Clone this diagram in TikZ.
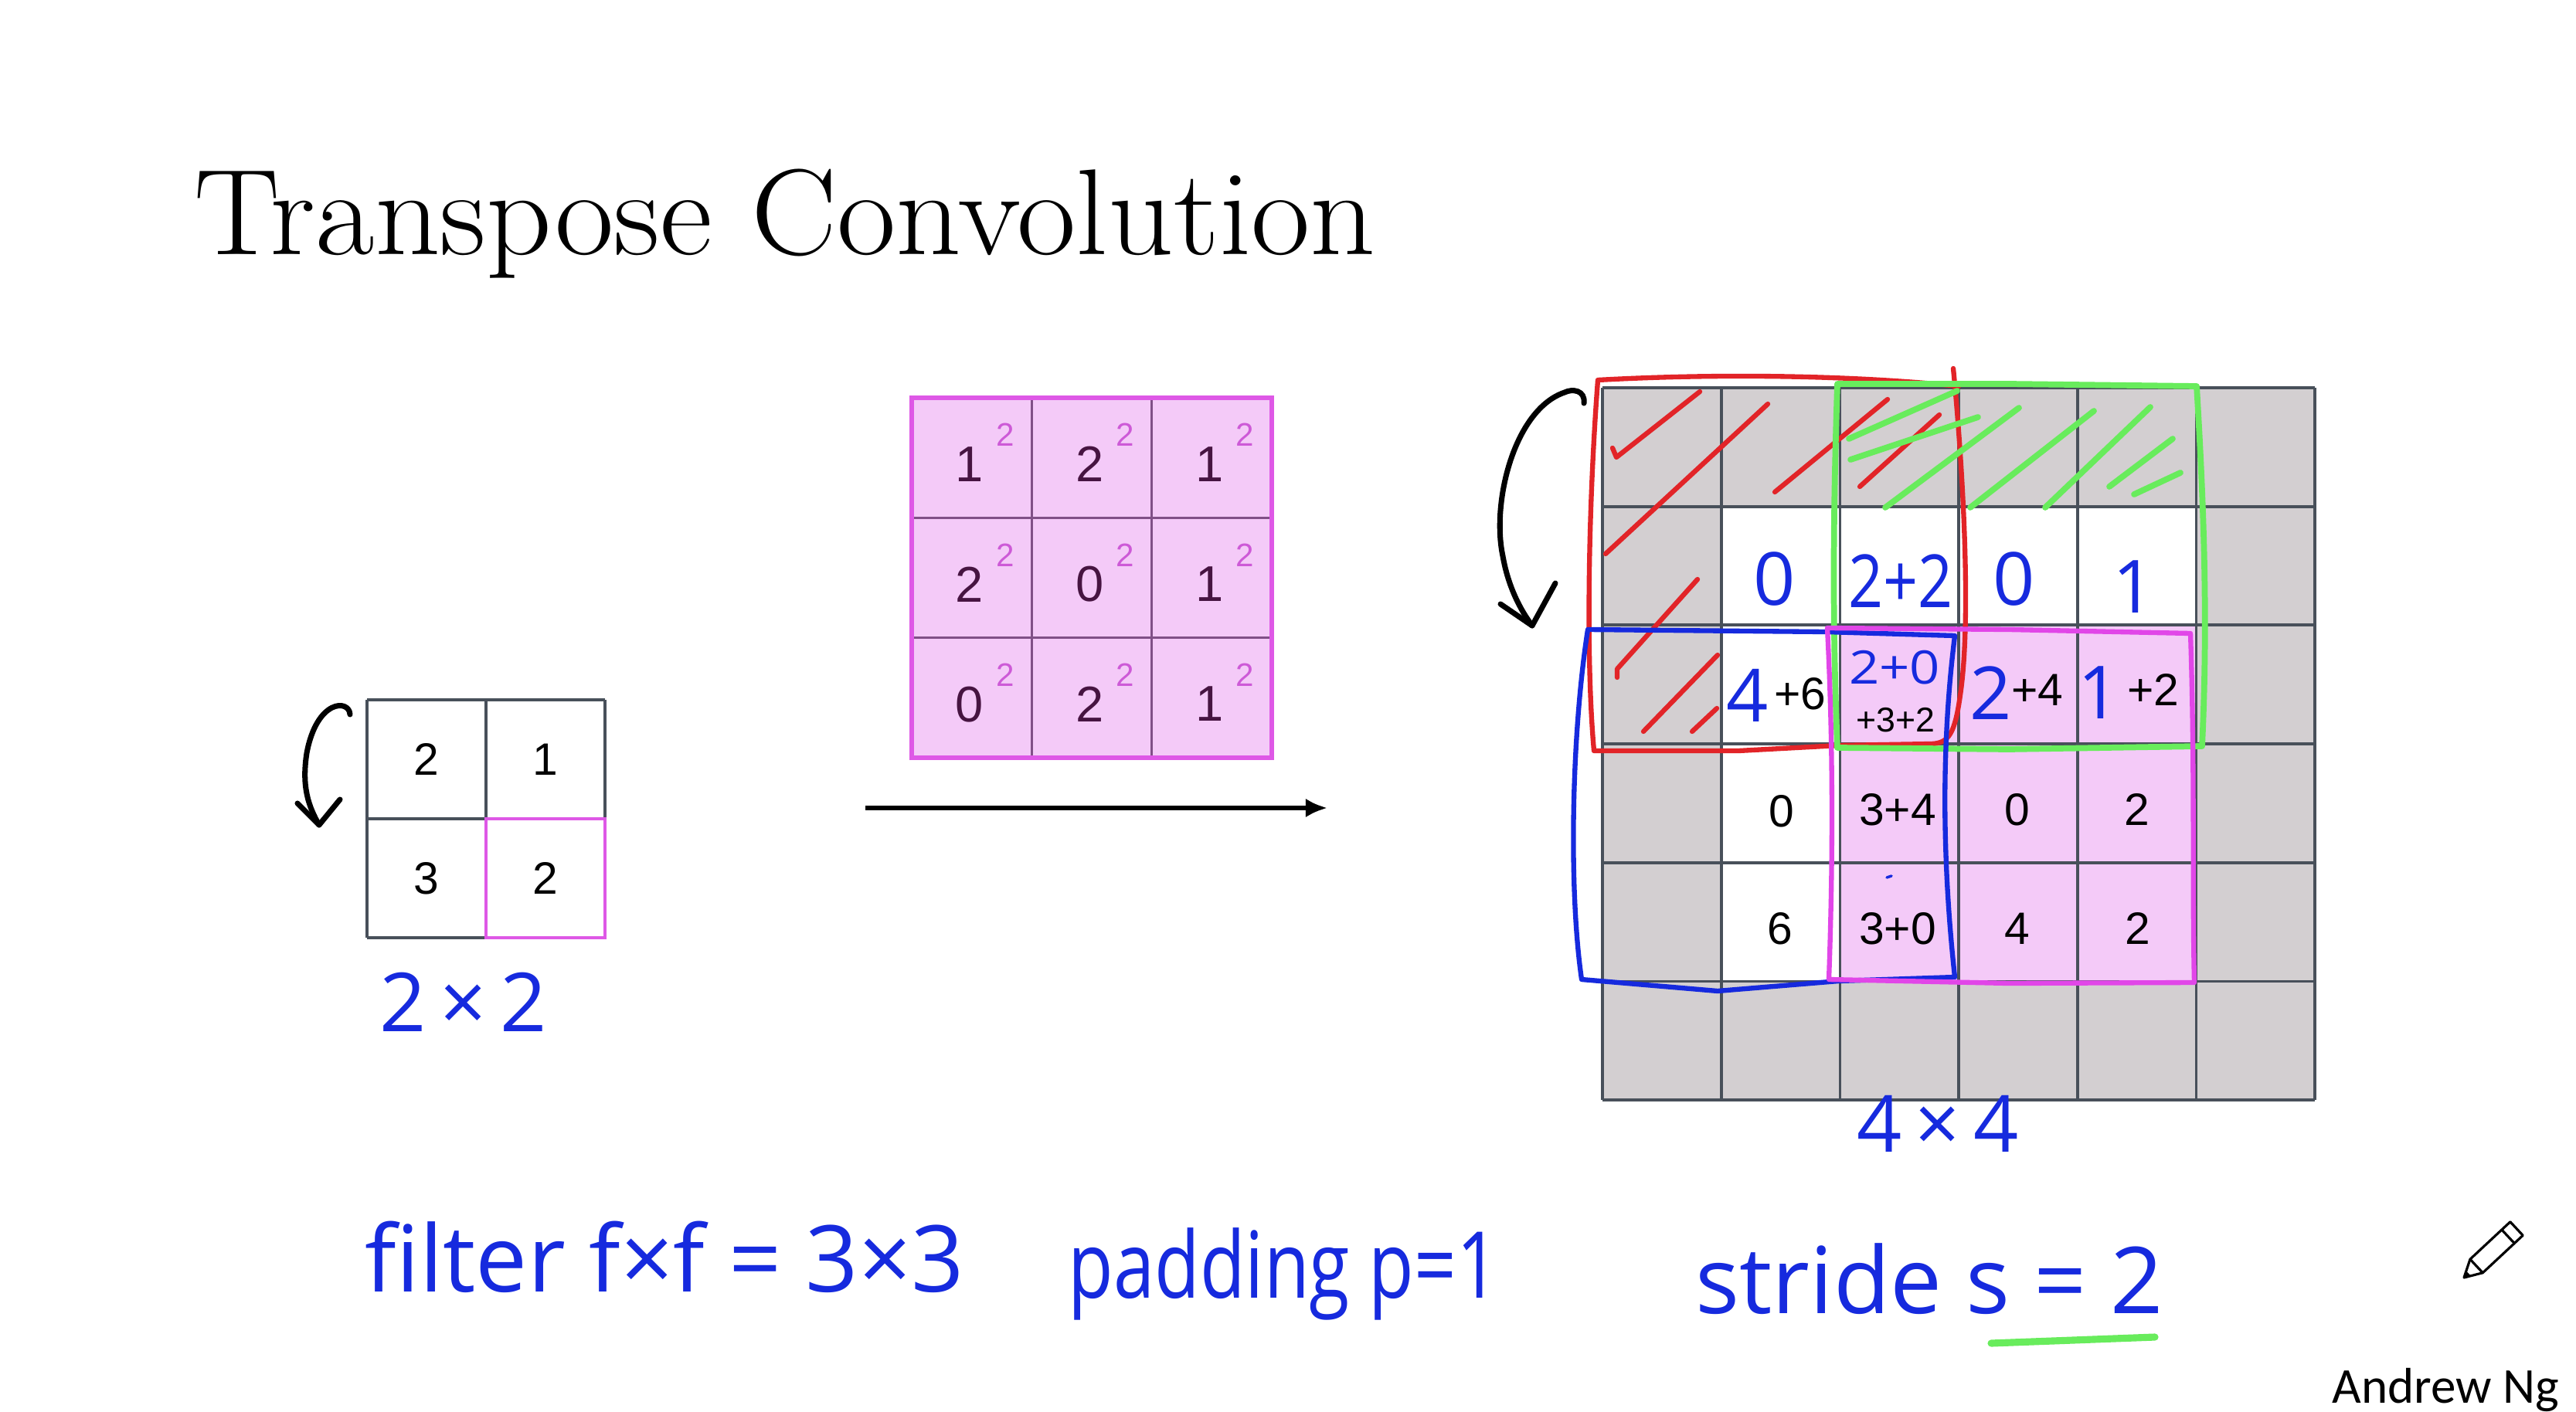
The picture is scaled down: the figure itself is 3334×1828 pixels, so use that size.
\documentclass[tikz,border=0pt]{standalone}
\usepackage{fontspec}
\setsansfont{Liberation Sans}
\newfontfamily\handfont{Open Sans}
\newfontfamily\ngfont{Carlito}
\usetikzlibrary{arrows.meta,positioning}

\definecolor{padgray}{RGB}{211,207,209}
\definecolor{gridline}{RGB}{72,80,90}
\definecolor{filterpink}{RGB}{244,202,248}
\definecolor{filterrim}{RGB}{222,88,230}
\definecolor{filterline}{RGB}{128,80,135}
\definecolor{filterdigit}{RGB}{70,20,65}
\definecolor{filtersup}{RGB}{205,90,215}
\definecolor{penblue}{RGB}{22,42,222}
\definecolor{penred}{RGB}{226,36,40}
\definecolor{pengreen}{RGB}{104,236,92}
\definecolor{penpink}{RGB}{225,70,232}

\begin{document}
\begin{tikzpicture}
[x=0.01cm,y=-0.01cm,
%
gridl/.style={draw=gridline,line width=1.1pt},
rim/.style={draw=filterrim,line width=1.4pt},
digit/.style={font=\sffamily\fontsize{16.7}{19}\selectfont,inner sep=0pt},
smalldigit/.style={font=\sffamily\fontsize{12.7}{14}\selectfont,inner sep=0pt},
fdigit/.style={font=\sffamily\fontsize{18.5}{21}\selectfont,text=filterdigit,inner sep=0pt},
fsup/.style={font=\sffamily\fontsize{12}{14}\selectfont,text=filtersup,inner sep=0pt},
hand/.style={font=\handfont\fontsize{34}{40}\selectfont,text=penblue,inner sep=0pt},
hdigit/.style={font=\handfont\fontsize{27}{30}\selectfont,text=penblue,inner sep=0pt},
%
inkline/.style={line width=1.8pt,line cap=round,line join=round},
inkblack/.style={inkline,draw=black,line width=2pt},
inkred/.style={inkline,draw=penred},
inkgreen/.style={inkline,draw=pengreen,line width=2.2pt},
inkblue/.style={inkline,draw=penblue},
inkpink/.style={inkline,draw=penpink}]
%
\useasboundingbox (0,0) rectangle (3334,1828);
\fill[white] (0,0) rectangle (3334,1828);
%
%% title
\node (title) [anchor=base west,inner sep=0pt,font=\fontsize{45}{50}\selectfont] at (251,330) {\scalebox{1.05}[1]{Transpose Convolution}};
%
%% input 2x2
\def\cin{154}
\begin{scope}[shift={(475,906)}]
\foreach \k in {0,1,2} {
  \draw[gridl] (\k*\cin,0) -- (\k*\cin,2*\cin);
  \draw[gridl] (0,\k*\cin) -- (2*\cin,\k*\cin);
}
\draw[rim] (\cin,\cin) rectangle (2*\cin,2*\cin);
\foreach \r/\c/\v in {0/0/2,0/1/1,1/0/3,1/1/2}
  \node (in\r\c) [digit] at ({\cin*(\c+.5)},{\cin*(\r+.5)}) {\v};
\end{scope}
\node (insize) [hand,font=\handfont\fontsize{30}{34}\selectfont] at (600,1297) {2\,×\,2};
%% rotation arrow of the input
\coordinate (inA) at (453,925);
\coordinate (inB) at (413,1068);
\draw[inkblack] (inA) .. controls (452,905) and (410,905) .. (397,975)
                      .. controls (390,1020) and (400,1045) .. (inB);
\draw[inkblack] (385,1040) -- (inB) -- (440,1035);
%
%% filter 3x3
\def\cf{155.3}
\begin{scope}[shift={(1180,515)}]
\fill[filterpink] (0,0) rectangle (3*\cf,3*\cf);
\foreach \k in {1,2} {
  \draw[filterline,line width=0.85pt] (\k*\cf,0) -- (\k*\cf,3*\cf);
  \draw[filterline,line width=0.85pt] (0,\k*\cf) -- (3*\cf,\k*\cf);
}
\draw[draw=filterrim,line width=1.7pt] (0,0) rectangle (3*\cf,3*\cf);
\foreach \r/\c/\v in {0/0/1,0/1/2,0/2/1,1/0/2,1/1/0,1/2/1,2/0/0,2/1/2,2/2/1} {
  \node (f\r\c) [fdigit] at ({\cf*\c+75},{\cf*\r+86}) {\v};
  \node (w\r\c) [fsup] at ({\cf*\c+121},{\cf*\r+48}) {2};
}
\end{scope}
%
%% arrow input -> output
\coordinate (arrS) at (1120,1046);
\coordinate (arrE) at (1718,1046);
\draw[line width=1.7pt,-{Latex[length=8pt,width=7pt]}] (arrS) -- (arrE);
%
%% output 6x6 (4x4 with padding)
\def\co{153.7}
\begin{scope}[shift={(2074,502)}]
\fill[padgray] (0,0) rectangle (6*\co,6*\co);
\fill[white] (\co,\co) rectangle (5*\co,5*\co);
\fill[filterpink] (2*\co,2*\co) rectangle (5*\co,5*\co);
\foreach \k in {0,...,6} {
  \draw[gridl] (\k*\co,0) -- (\k*\co,6*\co);
  \draw[gridl] (0,\k*\co) -- (6*\co,\k*\co);
}
\end{scope}
%
%% red hatching + red window
\draw[inkred] (2087,580) -- (2092,592) -- (2200,507);
\draw[inkred] (2078,717) -- (2288,523);
\draw[inkred] (2297,637) -- (2443,517);
\draw[inkred] (2407,630) -- (2510,537);
\draw[inkred] (2093,877) -- (2093,866) -- (2197,750);
\draw[inkred] (2127,947) -- (2223,848);
\draw[inkred] (2190,947) -- (2222,917);
\draw[inkred] (2528,477) .. controls (2540,600) and (2552,800) .. (2537,900)
   .. controls (2530,950) and (2522,962) .. (2500,963) -- (2380,965) -- (2250,972) -- (2063,972)
   .. controls (2052,850) and (2056,650) .. (2068,492)
   .. controls (2250,482) and (2420,488) .. (2535,500);
%
%% green hatching + green window
\draw[inkgreen] (2393,568) -- (2533,506);
\draw[inkgreen] (2395,595) -- (2560,540);
\draw[inkgreen] (2440,657) -- (2613,528);
\draw[inkgreen] (2550,657) -- (2710,532);
\draw[inkgreen] (2647,657) -- (2783,527);
\draw[inkgreen] (2730,630) -- (2812,568);
\draw[inkgreen] (2762,640) -- (2822,612);
\draw[inkgreen] (2378,497) -- (2600,497) -- (2843,500)
   .. controls (2852,650) and (2858,800) .. (2850,966) -- (2600,970) -- (2378,968)
   .. controls (2371,800) and (2373,650) .. (2378,497) -- cycle;
%
%% values written by hand
\node (o11) [hdigit] at (2297,750) {0};
\node (o12) [hdigit] at (2460,752) {\scalebox{0.83}[1]{2+2}};
\node (o13) [hdigit] at (2607,750) {0};
\node (o14) [hdigit] at (2762,760) {1};
\node (o21) [hdigit] at (2262,900) {4};
\node (o21b) [digit] at (2330,898) {+6};
\node (o22) [hdigit,font=\handfont\fontsize{17}{19}\selectfont] at (2452,864) {\scalebox{1.15}[1]{2+0}};
\node (o22b) [smalldigit] at (2453,932) {+3+2};
\node (o23) [hdigit] at (2577,897) {2};
\node (o23b) [digit] at (2637,893) {+4};
\node (o24) [hdigit] at (2717,897) {1};
\node (o24b) [digit] at (2787,893) {+2};
%% printed values
\foreach \n/\x/\y/\v in {31/2306/1050/0,32/2456/1048/3+4,33/2611/1048/0,34/2766/1048/2,
                         41/2304/1202/6,42/2456/1202/3+0,43/2611/1202/4,44/2767/1202/2}
  \node (o\n) [digit] at (\x,\y) {\v};
\draw[inkblue,line width=1pt] (2442,1136) -- (2448,1134);
%
%% blue window
\draw[inkblue] (2055,815) -- (2363,818) -- (2530,823)
   .. controls (2514,950) and (2512,1100) .. (2530,1265) -- (2380,1270) -- (2223,1283) -- (2047,1268)
   .. controls (2030,1150) and (2034,950) .. (2055,815) -- cycle;
%% pink window
\draw[inkpink] (2365,813) -- (2600,815) -- (2835,820)
   .. controls (2841,1000) and (2837,1150) .. (2840,1272) -- (2600,1273) -- (2367,1268)
   .. controls (2373,1100) and (2372,950) .. (2365,813) -- cycle;
%
%% rotation arrow of the output
\coordinate (outA) at (2050,522);
\coordinate (outB) at (1983,810);
\draw[inkblack] (outA) .. controls (2052,505) and (2035,503) .. (2025,508)
   .. controls (1960,530) and (1930,650) .. (1945,720)
   .. controls (1952,760) and (1968,790) .. (outB);
\draw[inkblack] (1942,782) -- (outB) -- (2013,755);
\node (outsize) [hand,font=\handfont\fontsize{29}{32}\selectfont] at (2508,1455) {4\,×\,4};
%
%% hyperparameters
\node (filt) [hand,anchor=base west] at (472,1672) {filter f×f = 3×3};
\node (padd) [hand,anchor=base west] at (1382,1680) {\scalebox{0.8}[1]{padding p=1}};
\node (strd) [hand,anchor=base west] at (2194,1700) {stride s = 2};
\draw[inkgreen,line width=2.6pt] (2577,1739) -- (2789,1731);
%
%% pencil
\begin{scope}[shift={(3189,1654)},rotate=43]
\draw[line width=0.9pt,line join=round] (0,0) -- (22,-12) -- (93,-12) -- (93,12) -- (22,12) -- cycle;
\draw[line width=0.9pt] (22,-12) -- (22,12) (78,-12) -- (78,12);
\fill (0,0) -- (8,-4.5) -- (8,4.5) -- cycle;
\end{scope}
\node (author) [anchor=base west,inner sep=0pt,font=\ngfont\fontsize{18.5}{22}\selectfont] at (3018,1816) {Andrew Ng};
\end{tikzpicture}
\end{document}
